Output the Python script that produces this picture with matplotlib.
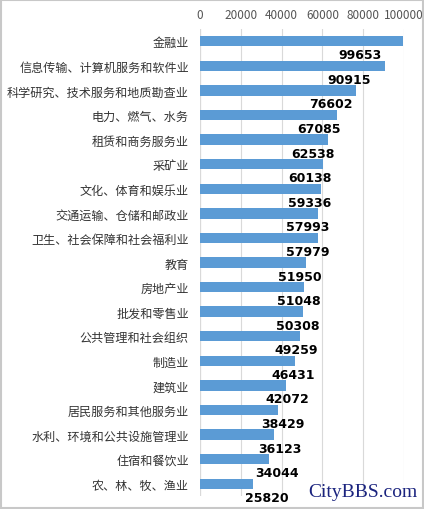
import matplotlib
matplotlib.use("Agg")
import matplotlib.pyplot as plt
from matplotlib.patches import Rectangle

plt.rcParams['font.family'] = ['Noto Sans CJK SC', 'DejaVu Sans']

categories = ["金融业", "信息传输、计算机服务和软件业", "科学研究、技术服务和地质勘查业",
              "电力、燃气、水务", "租赁和商务服务业", "采矿业", "文化、体育和娱乐业",
              "交通运输、仓储和邮政业", "卫生、社会保障和社会福利业", "教育", "房地产业",
              "批发和零售业", "公共管理和社会组织", "制造业", "建筑业", "居民服务和其他服务业",
              "水利、环境和公共设施管理业", "住宿和餐饮业", "农、林、牧、渔业"]
values = [99653, 90915, 76602, 67085, 62538, 60138, 59336, 57993, 57979, 51950,
          51048, 50308, 49259, 46431, 42072, 38429, 36123, 34044, 25820]
xticks = [0, 20000, 40000, 60000, 80000, 100000]

fig = plt.figure(figsize=(4.24, 5.10), dpi=100)
ax = fig.add_axes([200/424, 1-497/510, 204/424, (497-30)/510])
n = len(values)
ys = list(range(n))
ax.barh(ys, values, height=0.42, color='#5b9bd5', zorder=3)
for y, v in zip(ys, values):
    ax.text(16900 + 0.617*v, y + 0.55, str(v), ha='center', va='center',
            fontsize=9, fontweight='bold', family=['DejaVu Sans'], zorder=4)
ax.set_ylim(n - 0.5, -0.5)
ax.set_xlim(0, 100000)
ax.set_yticks(ys)
ax.set_yticklabels(categories, fontsize=8.7, color='#333333')
ax.set_xticks(xticks)
ax.set_xticklabels([str(t) for t in xticks], fontsize=8.5, color='#555555')
ax.xaxis.tick_top()
ax.tick_params(axis='y', length=0, pad=8)
ax.tick_params(axis='x', length=0, pad=6)
ax.grid(axis='x', color='#d9d9d9', linewidth=0.8, zorder=0)
for s in ax.spines.values():
    s.set_visible(False)
ax.axvline(0, color='#bfbfbf', linewidth=0.8, zorder=1)
fig.patches.append(Rectangle((0.002, 0.002), 0.996, 0.996, transform=fig.transFigure,
                             fill=False, edgecolor='#c8c8c8', linewidth=1.5))
fig.text(0.985, 0.035, "CityBBS.com", ha='right', va='center', fontsize=14,
         family=['Liberation Serif'], color='#1a237e')
fig.savefig("out.png", dpi=100)
